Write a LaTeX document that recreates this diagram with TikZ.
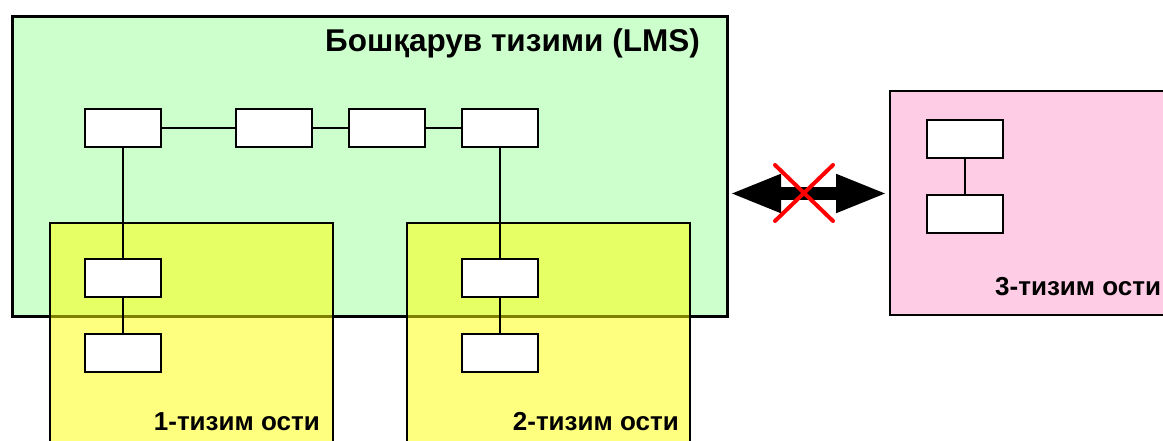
\documentclass[tikz,border=0pt]{standalone}
\usepackage{fontspec}
\setmainfont{Liberation Sans}
\usetikzlibrary{arrows.meta}
\definecolor{lmsgreen}{RGB}{204,255,204}
\definecolor{extpink}{RGB}{255,204,230}
\definecolor{subyellow}{RGB}{255,255,0}
\begin{document}
\begin{tikzpicture}[x=1pt,y=-1pt,
  sysbox/.style={draw=black, inner sep=0pt, anchor=north west},
  sbox/.style={draw=black, fill=white, line width=1.5pt, inner sep=0pt, minimum width=76pt, minimum height=38pt},
  link/.style={line width=1.5pt},
  lbl/.style={font=\bfseries\fontsize{26}{28}\selectfont, inner sep=0pt},
  ttl/.style={font=\bfseries\fontsize{31.5}{33}\selectfont, inner sep=0pt}]
\useasboundingbox (0,0) rectangle (1163,441);
\clip (0,0) rectangle (1163,441);
% main systems
\node[sysbox, fill=lmsgreen, line width=3pt, minimum width=715.5pt, minimum height=299pt] (lms) at (10.5,15.5) {};
\node[sysbox, fill=extpink, line width=1.8pt, minimum width=300pt, minimum height=224pt] (ext) at (889,90) {};
\node[sysbox, fill=subyellow, fill opacity=0.5, draw opacity=1, line width=1.8pt, minimum width=283pt, minimum height=240pt] (s1) at (49,222) {};
\node[sysbox, fill=subyellow, fill opacity=0.5, draw opacity=1, line width=1.8pt, minimum width=283pt, minimum height=240pt] (s2) at (406,222) {};
% small boxes
\node[sbox] (t1) at (123,128) {};
\node[sbox] (t2) at (274,128) {};
\node[sbox] (t3) at (387,128) {};
\node[sbox] (t4) at (500,128) {};
\node[sbox] (a1) at (123,278) {};
\node[sbox] (a2) at (123,353) {};
\node[sbox] (b1) at (500,278) {};
\node[sbox] (b2) at (500,353) {};
\node[sbox] (c1) at (965,139) {};
\node[sbox] (c2) at (965,214) {};
% connectors
\draw[link] (t1) -- (t2);
\draw[link] (t2) -- (t3);
\draw[link] (t3) -- (t4);
\draw[link] (t1) -- (a1);
\draw[link] (a1) -- (a2);
\draw[link] (t4) -- (b1);
\draw[link] (b1) -- (b2);
\draw[link] (c1) -- (c2);
% labels
\node[ttl, anchor=base east] (ttl) at (700,52) {Бошқарув тизими (LMS)};
\node[lbl, anchor=base east] (l1) at (320,430) {1-тизим ости};
\node[lbl, anchor=base east] (l2) at (679,430) {2-тизим ости};
\node[lbl, anchor=base west] (l3) at (995,295) {3-тизим ости};
% blocked link
\coordinate (pl) at (729,193.5);
\coordinate (pr) at (888,193.5);
\draw[line width=13pt, {Triangle[length=52pt,width=35pt]}-{Triangle[length=52pt,width=35pt]}] (pl) -- (pr);
\coordinate (x1) at (775,165);
\coordinate (x2) at (833,221);
\coordinate (x3) at (833,165);
\coordinate (x4) at (775,221);
\draw[red, line width=4pt, line cap=round] (x1) -- (x2);
\draw[red, line width=4pt, line cap=round] (x3) -- (x4);
\end{tikzpicture}
\end{document}
